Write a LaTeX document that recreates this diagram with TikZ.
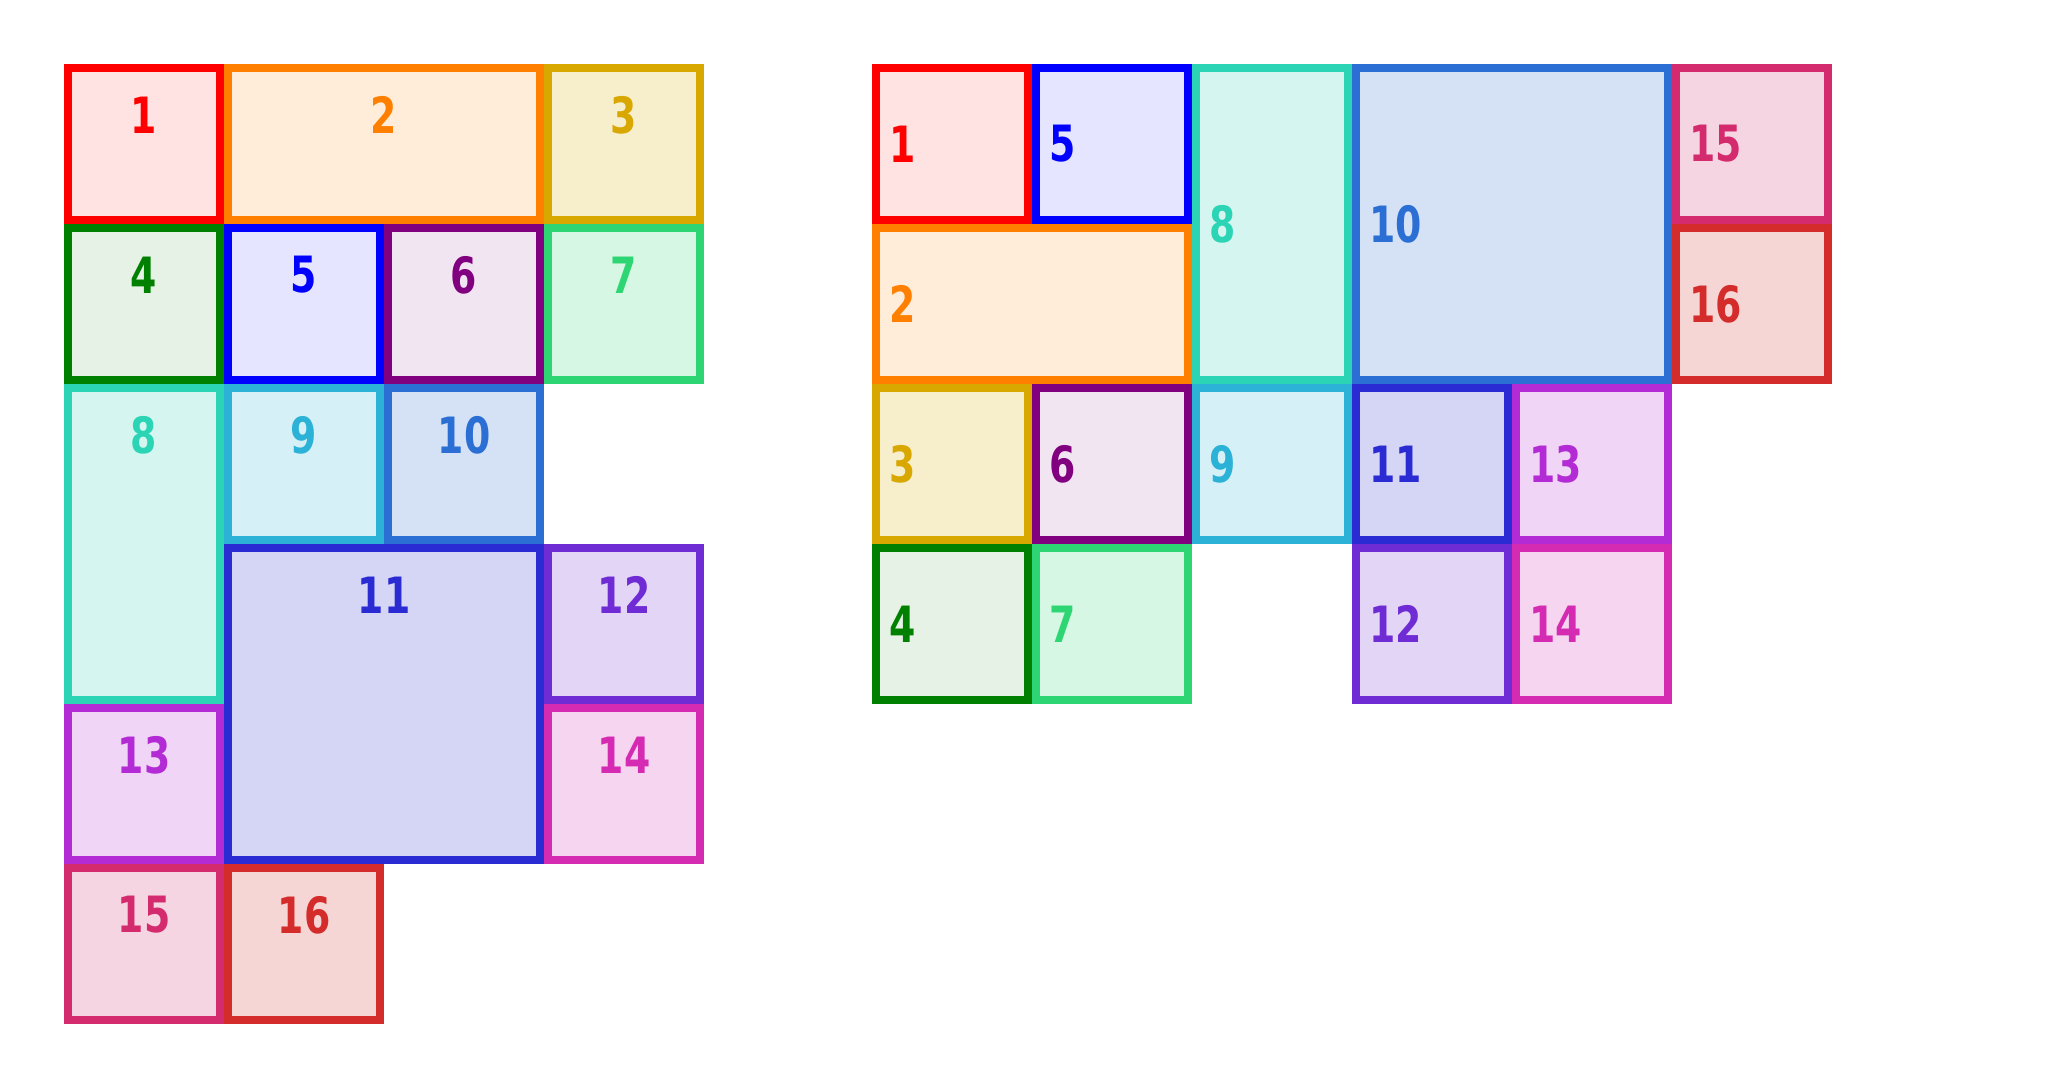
\documentclass[tikz,border=0pt]{standalone}
\usepackage{fontspec}
\newfontfamily\tilefont{DejaVu Sans Condensed}[FakeStretch=0.84]
\usepackage{tikz}

\definecolor{c1}{RGB}{255,0,0}
\definecolor{c2}{RGB}{255,128,0}
\definecolor{c3}{RGB}{216,168,0}
\definecolor{c4}{RGB}{0,128,0}
\definecolor{c5}{RGB}{0,0,255}
\definecolor{c6}{RGB}{128,0,128}
\definecolor{c7}{RGB}{46,213,115}
\definecolor{c8}{RGB}{43,212,180}
\definecolor{c9}{RGB}{43,178,214}
\definecolor{c10}{RGB}{43,111,212}
\definecolor{c11}{RGB}{43,43,212}
\definecolor{c12}{RGB}{111,43,212}
\definecolor{c13}{RGB}{178,43,212}
\definecolor{c14}{RGB}{212,43,178}
\definecolor{c15}{RGB}{212,43,111}
\definecolor{c16}{RGB}{212,43,43}

\begin{document}
\begin{tikzpicture}[x=0.5pt,y=0.5pt,yscale=-1,xscale=1,
	tilebox/.style={line width=4pt},
	tilenum/.style={font=\tilefont\bfseries\fontsize{25}{29}\selectfont, inner sep=0pt}]
	%set diagram left start at 0, and has height of 1088
	\useasboundingbox (0,0) rectangle (2056,1088);
	
	%%%%% left packing
	%Shape: Rectangle 1
	\draw [tilebox, color=c1, fill=c1!11] (68,68) -- (220,68) -- (220,220) -- (68,220) -- cycle ;
	%Shape: Rectangle 2
	\draw [tilebox, color=c2, fill=c2!15] (228,68) -- (540,68) -- (540,220) -- (228,220) -- cycle ;
	%Shape: Rectangle 3
	\draw [tilebox, color=c3, fill=c3!20] (548,68) -- (700,68) -- (700,220) -- (548,220) -- cycle ;
	%Shape: Rectangle 4
	\draw [tilebox, color=c4, fill=c4!10] (68,228) -- (220,228) -- (220,380) -- (68,380) -- cycle ;
	%Shape: Rectangle 5
	\draw [tilebox, color=c5, fill=c5!10] (228,228) -- (380,228) -- (380,380) -- (228,380) -- cycle ;
	%Shape: Rectangle 6
	\draw [tilebox, color=c6, fill=c6!10] (388,228) -- (540,228) -- (540,380) -- (388,380) -- cycle ;
	%Shape: Rectangle 7
	\draw [tilebox, color=c7, fill=c7!20] (548,228) -- (700,228) -- (700,380) -- (548,380) -- cycle ;
	%Shape: Rectangle 8
	\draw [tilebox, color=c8, fill=c8!20] (68,388) -- (220,388) -- (220,700) -- (68,700) -- cycle ;
	%Shape: Rectangle 9
	\draw [tilebox, color=c9, fill=c9!20] (228,388) -- (380,388) -- (380,540) -- (228,540) -- cycle ;
	%Shape: Rectangle 10
	\draw [tilebox, color=c10, fill=c10!20] (388,388) -- (540,388) -- (540,540) -- (388,540) -- cycle ;
	%Shape: Rectangle 11
	\draw [tilebox, color=c11, fill=c11!20] (228,548) -- (540,548) -- (540,860) -- (228,860) -- cycle ;
	%Shape: Rectangle 12
	\draw [tilebox, color=c12, fill=c12!20] (548,548) -- (700,548) -- (700,700) -- (548,700) -- cycle ;
	%Shape: Rectangle 13
	\draw [tilebox, color=c13, fill=c13!20] (68,708) -- (220,708) -- (220,860) -- (68,860) -- cycle ;
	%Shape: Rectangle 14
	\draw [tilebox, color=c14, fill=c14!20] (548,708) -- (700,708) -- (700,860) -- (548,860) -- cycle ;
	%Shape: Rectangle 15
	\draw [tilebox, color=c15, fill=c15!20] (68,868) -- (220,868) -- (220,1020) -- (68,1020) -- cycle ;
	%Shape: Rectangle 16
	\draw [tilebox, color=c16, fill=c16!20] (228,868) -- (380,868) -- (380,1020) -- (228,1020) -- cycle ;
	
	% Text Node
	\draw (144,115) node (left1) [tilenum, color=c1] {1};
	% Text Node
	\draw (384,115) node (left2) [tilenum, color=c2] {2};
	% Text Node
	\draw (624,115) node (left3) [tilenum, color=c3] {3};
	% Text Node
	\draw (144,275) node (left4) [tilenum, color=c4] {4};
	% Text Node
	\draw (304,275) node (left5) [tilenum, color=c5] {5};
	% Text Node
	\draw (464,275) node (left6) [tilenum, color=c6] {6};
	% Text Node
	\draw (624,275) node (left7) [tilenum, color=c7] {7};
	% Text Node
	\draw (144,435) node (left8) [tilenum, color=c8] {8};
	% Text Node
	\draw (304,435) node (left9) [tilenum, color=c9] {9};
	% Text Node
	\draw (464,435) node (left10) [tilenum, color=c10] {10};
	% Text Node
	\draw (384,595) node (left11) [tilenum, color=c11] {11};
	% Text Node
	\draw (624,595) node (left12) [tilenum, color=c12] {12};
	% Text Node
	\draw (144,755) node (left13) [tilenum, color=c13] {13};
	% Text Node
	\draw (624,755) node (left14) [tilenum, color=c14] {14};
	% Text Node
	\draw (144,915) node (left15) [tilenum, color=c15] {15};
	% Text Node
	\draw (304,915) node (left16) [tilenum, color=c16] {16};
	
	%%%%% right packing
	%Shape: Rectangle 1
	\draw [tilebox, color=c1, fill=c1!11] (876,68) -- (1028,68) -- (1028,220) -- (876,220) -- cycle ;
	%Shape: Rectangle 5
	\draw [tilebox, color=c5, fill=c5!10] (1036,68) -- (1188,68) -- (1188,220) -- (1036,220) -- cycle ;
	%Shape: Rectangle 8
	\draw [tilebox, color=c8, fill=c8!20] (1196,68) -- (1348,68) -- (1348,380) -- (1196,380) -- cycle ;
	%Shape: Rectangle 10
	\draw [tilebox, color=c10, fill=c10!20] (1356,68) -- (1668,68) -- (1668,380) -- (1356,380) -- cycle ;
	%Shape: Rectangle 15
	\draw [tilebox, color=c15, fill=c15!20] (1676,68) -- (1828,68) -- (1828,220) -- (1676,220) -- cycle ;
	%Shape: Rectangle 2
	\draw [tilebox, color=c2, fill=c2!15] (876,228) -- (1188,228) -- (1188,380) -- (876,380) -- cycle ;
	%Shape: Rectangle 16
	\draw [tilebox, color=c16, fill=c16!20] (1676,228) -- (1828,228) -- (1828,380) -- (1676,380) -- cycle ;
	%Shape: Rectangle 3
	\draw [tilebox, color=c3, fill=c3!20] (876,388) -- (1028,388) -- (1028,540) -- (876,540) -- cycle ;
	%Shape: Rectangle 6
	\draw [tilebox, color=c6, fill=c6!10] (1036,388) -- (1188,388) -- (1188,540) -- (1036,540) -- cycle ;
	%Shape: Rectangle 9
	\draw [tilebox, color=c9, fill=c9!20] (1196,388) -- (1348,388) -- (1348,540) -- (1196,540) -- cycle ;
	%Shape: Rectangle 11
	\draw [tilebox, color=c11, fill=c11!20] (1356,388) -- (1508,388) -- (1508,540) -- (1356,540) -- cycle ;
	%Shape: Rectangle 13
	\draw [tilebox, color=c13, fill=c13!20] (1516,388) -- (1668,388) -- (1668,540) -- (1516,540) -- cycle ;
	%Shape: Rectangle 4
	\draw [tilebox, color=c4, fill=c4!10] (876,548) -- (1028,548) -- (1028,700) -- (876,700) -- cycle ;
	%Shape: Rectangle 7
	\draw [tilebox, color=c7, fill=c7!20] (1036,548) -- (1188,548) -- (1188,700) -- (1036,700) -- cycle ;
	%Shape: Rectangle 12
	\draw [tilebox, color=c12, fill=c12!20] (1356,548) -- (1508,548) -- (1508,700) -- (1356,700) -- cycle ;
	%Shape: Rectangle 14
	\draw [tilebox, color=c14, fill=c14!20] (1516,548) -- (1668,548) -- (1668,700) -- (1516,700) -- cycle ;
	
	% Text Node
	\draw (889,144) node (right1) [anchor=west][tilenum, color=c1] {1};
	% Text Node
	\draw (1049,144) node (right5) [anchor=west][tilenum, color=c5] {5};
	% Text Node
	\draw (1209,224) node (right8) [anchor=west][tilenum, color=c8] {8};
	% Text Node
	\draw (1369,224) node (right10) [anchor=west][tilenum, color=c10] {10};
	% Text Node
	\draw (1689,144) node (right15) [anchor=west][tilenum, color=c15] {15};
	% Text Node
	\draw (889,304) node (right2) [anchor=west][tilenum, color=c2] {2};
	% Text Node
	\draw (1689,304) node (right16) [anchor=west][tilenum, color=c16] {16};
	% Text Node
	\draw (889,464) node (right3) [anchor=west][tilenum, color=c3] {3};
	% Text Node
	\draw (1049,464) node (right6) [anchor=west][tilenum, color=c6] {6};
	% Text Node
	\draw (1209,464) node (right9) [anchor=west][tilenum, color=c9] {9};
	% Text Node
	\draw (1369,464) node (right11) [anchor=west][tilenum, color=c11] {11};
	% Text Node
	\draw (1529,464) node (right13) [anchor=west][tilenum, color=c13] {13};
	% Text Node
	\draw (889,624) node (right4) [anchor=west][tilenum, color=c4] {4};
	% Text Node
	\draw (1049,624) node (right7) [anchor=west][tilenum, color=c7] {7};
	% Text Node
	\draw (1369,624) node (right12) [anchor=west][tilenum, color=c12] {12};
	% Text Node
	\draw (1529,624) node (right14) [anchor=west][tilenum, color=c14] {14};
	
\end{tikzpicture}
\end{document}
